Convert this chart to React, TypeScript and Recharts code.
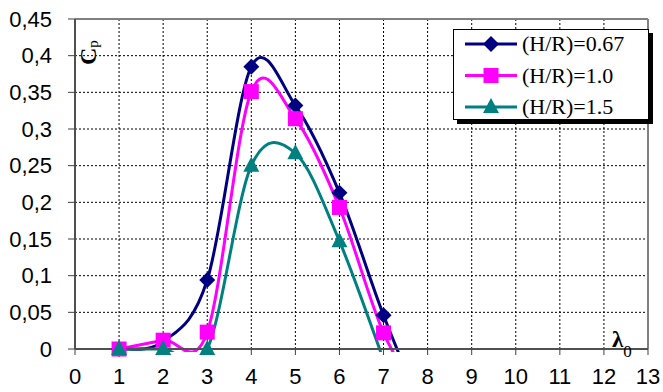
import React from "react";
import {
  LineChart,
  Line,
  XAxis,
  YAxis,
  CartesianGrid,
  ReferenceLine,
  Legend,
} from "recharts";

// tip speed ratio lambda_0
const lambda = [1, 2, 3, 4, 5, 6, 7, 8];
// power coefficient Cp for each H/R ratio (last values continue below the axis and get clipped)
const cpHR067 = [0, 0.01, 0.094, 0.385, 0.332, 0.213, 0.046, -0.1];
const cpHR10 = [0, 0.012, 0.023, 0.351, 0.314, 0.193, 0.022, -0.08];
const cpHR15 = [0, 0, 0, 0.25, 0.267, 0.147, -0.015, null];

const xTicks = [0, 1, 2, 3, 4, 5, 6, 7, 8, 9, 10, 11, 12, 13];
const yTicks = [0, 0.05, 0.1, 0.15, 0.2, 0.25, 0.3, 0.35, 0.4, 0.45];

const seriesNames = ["(H/R)=0.67", "(H/R)=1.0", "(H/R)=1.5"];
const seriesColors = ["#000080", "#FF00FF", "#008080"];

const data = lambda.map((x, i) => ({
  x,
  a: cpHR067[i],
  b: cpHR10[i],
  c: cpHR15[i],
}));

// excel-like smoothed line (uniform catmull-rom as bezier)
const excelSmooth: any = (ctx: any) => {
  let pts: number[][] = [];
  return {
    areaStart() {},
    areaEnd() {},
    lineStart() {
      pts = [];
    },
    point(x: number, y: number) {
      pts.push([+x, +y]);
    },
    lineEnd() {
      const n = pts.length;
      if (!n) return;
      ctx.moveTo(pts[0][0], pts[0][1]);
      for (let i = 0; i < n - 1; i++) {
        const p0 = pts[Math.max(i - 1, 0)];
        const p1 = pts[i];
        const p2 = pts[i + 1];
        const p3 = pts[Math.min(i + 2, n - 1)];
        ctx.bezierCurveTo(
          p1[0] + (p2[0] - p0[0]) / 6,
          p1[1] + (p2[1] - p0[1]) / 6,
          p2[0] - (p3[0] - p1[0]) / 6,
          p2[1] - (p3[1] - p1[1]) / 6,
          p2[0],
          p2[1]
        );
      }
    },
  };
};

const Marker = ({ kind, cx, cy, color }: any) => {
  if (kind === 0)
    return (
      <polygon
        points={`${cx},${cy - 8} ${cx + 8},${cy} ${cx},${cy + 8} ${cx - 8},${cy}`}
        fill={color}
      />
    );
  if (kind === 1)
    return <rect x={cx - 7.5} y={cy - 7.5} width={15} height={15} fill={color} />;
  return (
    <polygon
      points={`${cx},${cy - 9} ${cx + 8},${cy + 6} ${cx - 8},${cy + 6}`}
      fill={color}
    />
  );
};

const dotFor = (kind: number) => (props: any) => {
  const { cx, cy, value, index } = props;
  if (value == null || cy == null || isNaN(cy))
    return <g key={`d${kind}-${index}`} />;
  return (
    <g key={`d${kind}-${index}`}>
      <Marker kind={kind} cx={cx} cy={cy} color={seriesColors[kind]} />
    </g>
  );
};

const nonNeg = (key: string) => (r: any) =>
  r[key] != null && r[key] >= 0 ? r[key] : null;

const fmtY = (v: number) => String(+v.toFixed(2)).replace(".", ",");

const LegendBox = () => (
  <svg width={204} height={98} style={{ display: "block" }}>
    <rect x={4} y={4} width={196} height={91} fill="#000" />
    <rect x={0.5} y={0.5} width={195} height={90} fill="#fff" stroke="#000" />
    {seriesNames.map((name, i) => {
      const cy = 15 + i * 31.5;
      return (
        <g key={name}>
          <line x1={12} x2={64} y1={cy} y2={cy} stroke={seriesColors[i]} strokeWidth={3} />
          <Marker kind={i} cx={38} cy={cy} color={seriesColors[i]} />
          <text
            x={69}
            y={cy + 7}
            fontFamily="'Liberation Serif', 'Times New Roman', serif"
            fontSize={22}
            fill="#000"
          >
            {name}
          </text>
        </g>
      );
    })}
  </svg>
);

const XLabel = ({ viewBox }: any) => {
  const { x, y, width } = viewBox;
  return (
    <text
      x={x + width - 36}
      y={y - 2}
      fontFamily="'Liberation Serif', 'Times New Roman', serif"
      fill="#000"
    >
      <tspan fontSize={23} fontWeight="bold">λ</tspan>
      <tspan fontSize={17} dy={10}>0</tspan>
    </text>
  );
};

const YLabel = ({ viewBox }: any) => {
  const { x, y } = viewBox;
  return (
    <text
      transform={`translate(${x + 96}, ${y + 46}) rotate(-90)`}
      fontFamily="'Liberation Serif', 'Times New Roman', serif"
      fill="#000"
    >
      <tspan fontSize={24} fontWeight="bold">C</tspan>
      <tspan fontSize={15} dy={2}>p</tspan>
    </text>
  );
};

const tickStyle = {
  fontFamily: "'Liberation Sans', Arial, sans-serif",
  fontSize: 22,
  fill: "#000",
};

export default function App() {
  return (
    <div
      style={{
        position: "absolute",
        left: 0,
        top: 0,
        width: 663,
        height: 392,
        background: "#fff",
      }}
    >
      {/* let lines sitting on the zero line show in full, like the original */}
      <style>{".recharts-wrapper clipPath rect { height: 333px; }"}</style>
      <LineChart
        width={663}
        height={392}
        data={data}
        margin={{ top: 19, right: 15, bottom: 0, left: 0 }}
      >
        <CartesianGrid stroke="#000" strokeDasharray="2 2" strokeWidth={1} />
        <XAxis
          dataKey="x"
          type="number"
          domain={[0, 13]}
          ticks={xTicks}
          tickCount={14}
          interval={0}
          height={43}
          tick={tickStyle}
          tickSize={6}
          tickMargin={13}
          axisLine={{ stroke: "#505050", strokeWidth: 2 }}
          tickLine={{ stroke: "#404040", strokeWidth: 1 }}
          label={<XLabel />}
        />
        <YAxis
          type="number"
          domain={[0, 0.45]}
          ticks={yTicks}
          tickCount={10}
          interval={0}
          width={75}
          tick={tickStyle}
          tickFormatter={fmtY}
          tickSize={7}
          tickMargin={16}
          axisLine={{ stroke: "#505050", strokeWidth: 2 }}
          tickLine={{ stroke: "#404040", strokeWidth: 1 }}
          label={<YLabel />}
        />
        <YAxis
          yAxisId="curve"
          type="number"
          domain={[0, 0.45]}
          tickCount={10}
          allowDataOverflow
          hide
        />
        <ReferenceLine y={0.45} stroke="#808080" strokeWidth={2} />
        <ReferenceLine x={13} stroke="#808080" strokeWidth={2} />
        <Legend
          layout="horizontal"
          verticalAlign="middle"
          align="center"
          content={<LegendBox />}
          wrapperStyle={{ position: "absolute", left: 453, top: 29, width: 204, height: 98 }}
        />
        {["a", "b", "c"].map((key, i) => [
          <Line
            key={`curve-${key}`}
            yAxisId="curve"
            dataKey={key}
            type={excelSmooth}
            stroke={seriesColors[i]}
            strokeWidth={3}
            dot={false}
            activeDot={false}
            legendType="none"
            isAnimationActive={false}
          />,
          <Line
            key={`marks-${key}`}
            dataKey={nonNeg(key)}
            stroke="none"
            dot={dotFor(i)}
            activeDot={false}
            legendType="none"
            isAnimationActive={false}
          />,
        ])}
      </LineChart>
    </div>
  );
}
